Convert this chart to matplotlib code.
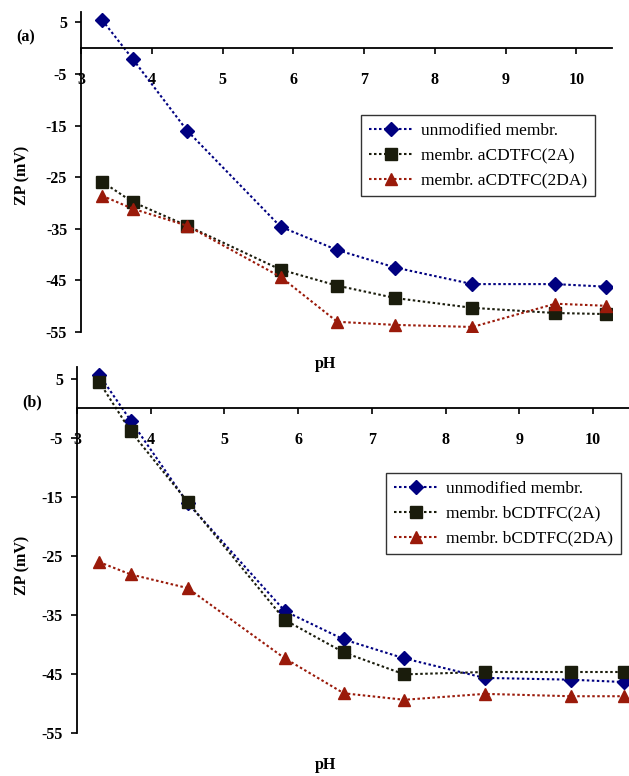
import matplotlib
matplotlib.use("Agg")
import matplotlib.pyplot as plt

plt.rcParams['font.family'] = ['Liberation Serif', 'DejaVu Serif']
plt.rcParams['axes.unicode_minus'] = False

# pH values (same for both panels)
ph = [3.3, 3.73, 4.5, 5.82, 6.62, 7.44, 8.53, 9.7, 10.42]

# panel (a)
zp_unmod_a = [5.4, -2.1, -16.0, -34.6, -39.1, -42.5, -45.7, -45.7, -46.2]
zp_2a_a = [-25.9, -29.8, -34.4, -42.9, -46.0, -48.4, -50.3, -51.3, -51.5]
zp_2da_a = [-28.6, -31.1, -34.4, -44.3, -53.0, -53.6, -54.0, -49.5, -49.9]
labels_a = ["unmodified membr.", "membr. aCDTFC(2A)", "membr. aCDTFC(2DA)"]

# panel (b)
zp_unmod_b = [5.7, -2.1, -16.0, -34.3, -39.1, -42.3, -45.6, -45.9, -46.3]
zp_2a_b = [4.5, -3.9, -15.8, -35.8, -41.3, -45.0, -44.6, -44.6, -44.6]
zp_2da_b = [-26.0, -28.1, -30.4, -42.3, -48.2, -49.3, -48.3, -48.7, -48.7]
labels_b = ["unmodified membr.", "membr. bCDTFC(2A)", "membr. bCDTFC(2DA)"]

xticks = [3, 4, 5, 6, 7, 8, 9, 10]
yticks = [5, -5, -15, -25, -35, -45, -55]

blue = '#000080'
black = '#1a1c0c'
red = '#9a1a0a'

fig = plt.figure(figsize=(6.29, 7.76), dpi=100)
ax_a = fig.add_axes([0.1288, 0.572, 0.844, 0.4126])
ax_b = fig.add_axes([0.1224, 0.0548, 0.879, 0.4723])


def draw_panel(ax, series, labels, legend_box):
    ls = (0, (1.2, 1.2))
    ax.plot(ph, series[0], color=blue, ls=ls, lw=1.5, marker='D', ms=7, label=labels[0])
    ax.plot(ph, series[1], color=black, ls=ls, lw=1.5, marker='s', ms=9, label=labels[1])
    ax.plot(ph, series[2], color=red, ls=ls, lw=1.5, marker='^', ms=9, label=labels[2])
    ax.set_xlim(3, 10.5)
    ax.set_ylim(-55, 7)
    ax.spines['top'].set_visible(False)
    ax.spines['right'].set_visible(False)
    ax.spines['bottom'].set_position(('data', 0))
    ax.spines['left'].set_linewidth(1.3)
    ax.spines['bottom'].set_linewidth(1.3)
    ax.set_xticks(xticks)
    ax.set_yticks(yticks)
    ax.tick_params(axis='x', direction='out', length=4, width=1.2, pad=13)
    ax.tick_params(axis='y', direction='out', length=4, width=1.2, pad=6)
    for t in ax.get_xticklabels() + ax.get_yticklabels():
        t.set_fontweight('bold')
        t.set_fontsize(11.5)
    ax.patch.set_visible(False)
    leg = ax.legend(loc='upper left', bbox_to_anchor=legend_box, bbox_transform=fig.transFigure,
                    fontsize=12.5, frameon=True, fancybox=False, edgecolor='black',
                    handlelength=2.6, handletextpad=0.4, borderpad=0.45, labelspacing=0.5,
                    borderaxespad=0)
    leg.get_frame().set_linewidth(1.0)


draw_panel(ax_a, [zp_unmod_a, zp_2a_a, zp_2da_a], labels_a, (361 / 629, 1 - 115 / 776))
draw_panel(ax_b, [zp_unmod_b, zp_2a_b, zp_2da_b], labels_b, (386 / 629, 1 - 473 / 776))

# axis titles and panel letters
fig.text(22 / 629, 1 - 175 / 776, "ZP (mV)", rotation=90, ha='center', va='center',
         fontsize=11.5, fontweight='bold')
fig.text(22 / 629, 1 - 565 / 776, "ZP (mV)", rotation=90, ha='center', va='center',
         fontsize=11.5, fontweight='bold')
fig.text(325 / 629, 1 - 364 / 776, "pH", ha='center', va='center', fontsize=11.5, fontweight='bold')
fig.text(325 / 629, 1 - 765 / 776, "pH", ha='center', va='center', fontsize=11.5, fontweight='bold')
fig.text(26 / 629, 1 - 37 / 776, "(a)", ha='center', va='center', fontsize=11.5, fontweight='bold')
fig.text(32 / 629, 1 - 402 / 776, "(b)", ha='center', va='center', fontsize=11.5, fontweight='bold')

fig.savefig("out.png", dpi=100)
